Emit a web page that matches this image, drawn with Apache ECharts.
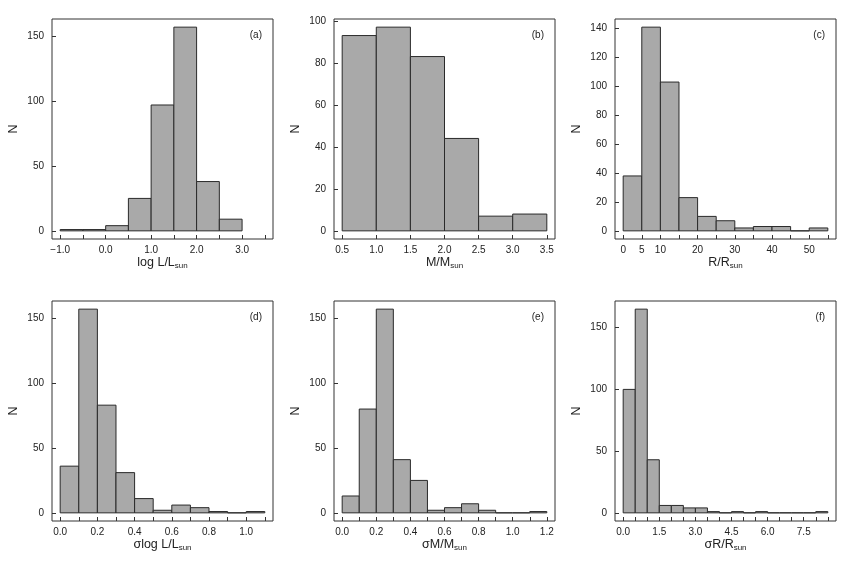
<!DOCTYPE html>
<html>
<head>
<meta charset="utf-8">
<script src="https://cdn.jsdelivr.net/npm/echarts@6/dist/echarts.min.js"></script>
<style>
  html, body { margin: 0; padding: 0; background: #fff; }
  #chart { width: 845px; height: 563px; }
</style>
</head>
<body>
<div id="chart"></div>
<script>
// (a) log L/Lsun
const lumEdges = [-1.0, -0.5, 0.0, 0.5, 1.0, 1.5, 2.0, 2.5, 3.0]
const lumCounts = [1, 1, 4, 25, 97, 157, 38, 9]
const lumTicks = [-1.0, -0.5, 0.0, 0.5, 1.0, 1.5, 2.0, 2.5, 3.0, 3.5]
const lumLabels = [-1.0, 0.0, 1.0, 2.0, 3.0]

// (b) M/Msun
const massEdges = [0.5, 1.0, 1.5, 2.0, 2.5, 3.0, 3.5]
const massCounts = [93, 97, 83, 44, 7, 8]
const massTicks = [0.5, 1.0, 1.5, 2.0, 2.5, 3.0, 3.5]
const massLabels = [0.5, 1.0, 1.5, 2.0, 2.5, 3.0, 3.5]

// (c) R/Rsun
const radEdges = [0, 5, 10, 15, 20, 25, 30, 35, 40, 45, 50, 55]
const radCounts = [38, 141, 103, 23, 10, 7, 2, 3, 3, 0, 2]
const radTicks = [0, 5, 10, 15, 20, 25, 30, 35, 40, 45, 50, 55]
const radLabels = [0, 5, 10, 20, 30, 40, 50]

// (d) sigma log L/Lsun
const sLumEdges = [0.0, 0.1, 0.2, 0.3, 0.4, 0.5, 0.6, 0.7, 0.8, 0.9, 1.0, 1.1]
const sLumCounts = [36, 157, 83, 31, 11, 2, 6, 4, 1, 0, 1]
const sLumTicks = [0.0, 0.1, 0.2, 0.3, 0.4, 0.5, 0.6, 0.7, 0.8, 0.9, 1.0, 1.1]
const sLumLabels = [0.0, 0.2, 0.4, 0.6, 0.8, 1.0]

// (e) sigma M/Msun
const sMassEdges = [0.0, 0.1, 0.2, 0.3, 0.4, 0.5, 0.6, 0.7, 0.8, 0.9, 1.0, 1.1, 1.2]
const sMassCounts = [13, 80, 157, 41, 25, 2, 4, 7, 2, 0, 0, 1]
const sMassTicks = [0.0, 0.1, 0.2, 0.3, 0.4, 0.5, 0.6, 0.7, 0.8, 0.9, 1.0, 1.1, 1.2]
const sMassLabels = [0.0, 0.2, 0.4, 0.6, 0.8, 1.0, 1.2]

// (f) sigma R/Rsun
const sRadEdges = [0.0, 0.5, 1.0, 1.5, 2.0, 2.5, 3.0, 3.5, 4.0, 4.5, 5.0, 5.5, 6.0, 6.5, 7.0, 7.5, 8.0, 8.5]
const sRadCounts = [100, 165, 43, 6, 6, 4, 4, 1, 0, 1, 0, 1, 0, 0, 0, 0, 1]
const sRadTicks = [0.0, 0.5, 1.0, 1.5, 2.0, 2.5, 3.0, 3.5, 4.0, 4.5, 5.0, 5.5, 6.0, 6.5, 7.0, 7.5, 8.0, 8.5]
const sRadLabels = [0.0, 1.5, 3.0, 4.5, 6.0, 7.5]

const yTicks50 = [0, 50, 100, 150]
const yTicks20 = [0, 20, 40, 60, 80, 100]
const yTicks140 = [0, 20, 40, 60, 80, 100, 120, 140]

const panels = [
  { tag: '(a)', name: 'log L/L{s|sun}', edges: lumEdges, counts: lumCounts, xTicks: lumTicks, xLabels: lumLabels, yTicks: yTicks50, digits: 1 },
  { tag: '(b)', name: 'M/M{s|sun}', edges: massEdges, counts: massCounts, xTicks: massTicks, xLabels: massLabels, yTicks: yTicks20, digits: 1 },
  { tag: '(c)', name: 'R/R{s|sun}', edges: radEdges, counts: radCounts, xTicks: radTicks, xLabels: radLabels, yTicks: yTicks140, digits: 0 },
  { tag: '(d)', name: 'σlog L/L{s|sun}', edges: sLumEdges, counts: sLumCounts, xTicks: sLumTicks, xLabels: sLumLabels, yTicks: yTicks50, digits: 1 },
  { tag: '(e)', name: 'σM/M{s|sun}', edges: sMassEdges, counts: sMassCounts, xTicks: sMassTicks, xLabels: sMassLabels, yTicks: yTicks50, digits: 1 },
  { tag: '(f)', name: 'σR/R{s|sun}', edges: sRadEdges, counts: sRadCounts, xTicks: sRadTicks, xLabels: sRadLabels, yTicks: yTicks50, digits: 1 },
]

const lefts = [52, 334, 615]
const tops = [19, 301]
const boxW = 221
const boxH = 220
const font = 'Liberation Sans'
const ink = '#222'

const chart = echarts.init(document.getElementById('chart'))

const grid = []
const xAxis = []
const yAxis = []
const series = []
const graphic = []

panels.forEach(function (p, i) {
  const col = i % 3
  const row = Math.floor(i / 3)
  const left = lefts[col]
  const top = tops[row]

  // R style: 4% padding around the data range
  const xlo = p.xTicks[0]
  const xhi = p.xTicks[p.xTicks.length - 1]
  const xpad = (xhi - xlo) * 0.04
  const ymax = Math.max.apply(null, p.counts)
  const ypad = ymax * 0.04

  grid.push({
    left: left, top: top, width: boxW, height: boxH,
    show: true, borderColor: '#333', borderWidth: 1, backgroundColor: 'transparent',
  })

  xAxis.push({
    type: 'value', gridIndex: i, position: 'bottom',
    min: xlo - xpad, max: xhi + xpad,
    axisLine: { show: false, onZero: false },
    splitLine: { show: false },
    axisTick: { show: true, inside: true, length: 4, customValues: p.xTicks, lineStyle: { color: '#333' } },
    axisLabel: {
      customValues: p.xLabels, margin: 6, fontSize: 10, color: ink, fontFamily: font,
      formatter: function (v) { return v.toFixed(p.digits).replace('-', '−') },
    },
    name: p.name, nameLocation: 'middle', nameGap: 16,
    nameTextStyle: {
      fontSize: 12.5, color: ink, fontFamily: font,
      rich: { s: { fontSize: 8, color: ink, fontFamily: font, padding: [7, 0, 0, 0] } },
    },
  })

  yAxis.push({
    type: 'value', gridIndex: i, position: 'left',
    min: -ypad, max: ymax + ypad,
    axisLine: { show: false, onZero: false },
    splitLine: { show: false },
    axisTick: { show: true, inside: true, length: 4, customValues: p.yTicks, lineStyle: { color: '#333' } },
    axisLabel: { customValues: p.yTicks, margin: 8, fontSize: 10, color: ink, fontFamily: font },
    name: 'N', nameLocation: 'middle', nameGap: 32, nameRotate: 90,
    nameTextStyle: { fontSize: 12.5, color: ink, fontFamily: font },
  })

  const bins = p.counts.map(function (c, k) { return [p.edges[k], p.edges[k + 1], c] })

  series.push({
    type: 'custom', xAxisIndex: i, yAxisIndex: i,
    data: bins,
    encode: { x: [0, 1], y: 2 },
    renderItem: function (params, api) {
      const a = api.coord([api.value(0), 0])
      const b = api.coord([api.value(1), api.value(2)])
      return {
        type: 'rect',
        shape: { x: a[0], y: b[1], width: b[0] - a[0], height: a[1] - b[1] },
        style: { fill: '#a9a9a9', stroke: '#2a2a2a', lineWidth: 1 },
      }
    },
  })

  graphic.push({
    type: 'text',
    x: left + boxW - 11, y: top + 16,
    style: {
      text: p.tag, fill: ink, font: '10px "Liberation Sans"',
      align: 'right', verticalAlign: 'middle',
    },
  })
})

chart.setOption({
  animation: false,
  textStyle: { fontFamily: font },
  grid: grid,
  xAxis: xAxis,
  yAxis: yAxis,
  series: series,
  graphic: graphic,
})
</script>
</body>
</html>
